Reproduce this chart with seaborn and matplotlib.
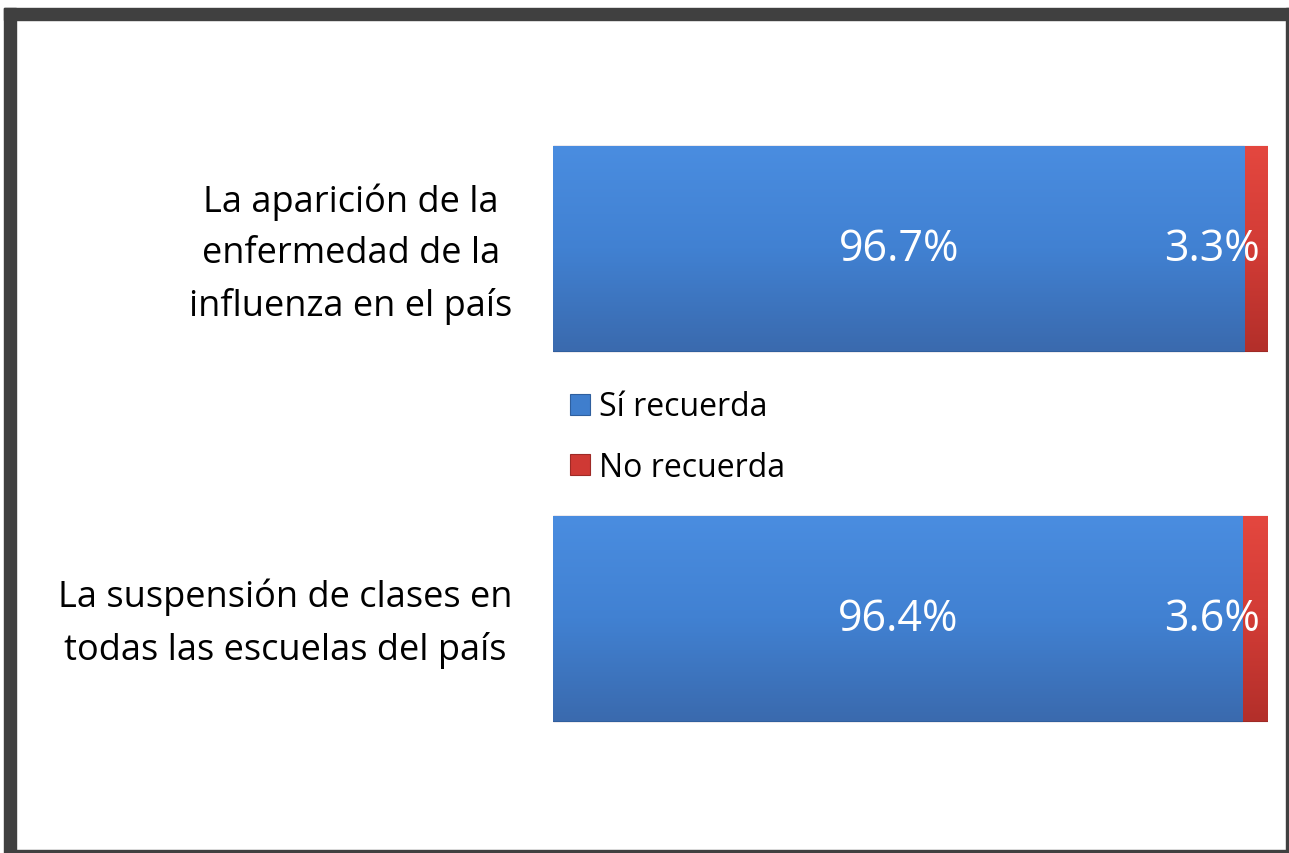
# stacked horizontal bar: recuerda / no recuerda

import matplotlib
matplotlib.use('Agg')
import matplotlib.pyplot as plt
import matplotlib.transforms as mtrans
import numpy as np
import pandas as pd
import seaborn as sb
from matplotlib.patches import Rectangle
from matplotlib.colors import LinearSegmentedColormap

# data
categories = ['La aparición de la\nenfermedad de la\ninfluenza en el país',
              'La suspensión de clases en\ntodas las escuelas del país']
si_recuerda = [96.7, 96.4]
no_recuerda = [3.3, 3.6]
series_names = ['Sí recuerda', 'No recuerda']

blue = '#3f7ecd'
red = '#cf3934'

sb.set_style('white')
plt.rcParams['font.family'] = ['Open Sans', 'DejaVu Sans']

df = pd.DataFrame({'cat': categories, 'si': si_recuerda, 'no': no_recuerda})
df['total'] = df['si'] + df['no']

fig = plt.figure(figsize=(12.89, 8.54), dpi=100)
ax = fig.add_axes([553/1289, 1 - 804.5/854, 715/1289, 740/854])

# red drawn as total, blue on top -> stacked look
sb.barplot(data=df, x='total', y='cat', color=red, width=0.554, saturation=1,
           edgecolor='#9e2a26', linewidth=0.8, ax=ax, label=series_names[1])
sb.barplot(data=df, x='si', y='cat', color=blue, width=0.554, saturation=1,
           edgecolor='#2f5f9e', linewidth=0.8, ax=ax, label=series_names[0])

ax.set_xlim(0, 100)
ax.set_ylim(1.5, -0.5)

# soft vertical gradient inside each bar (office-like look)
grad = np.linspace(0, 1, 256).reshape(-1, 1)
cmaps = [LinearSegmentedColormap.from_list('r', ['#e4473f', '#d23c36', '#b32f2a']),
         LinearSegmentedColormap.from_list('b', ['#4a8de0', '#4181d2', '#3a6aae'])]
for cont, cm in zip(ax.containers, cmaps):
    for p in cont:
        x0, y0 = p.get_x(), p.get_y()
        im = ax.imshow(grad, cmap=cm, aspect='auto', zorder=p.get_zorder() + 0.01,
                       extent=(x0, x0 + p.get_width(), y0 + p.get_height(), y0))
        im.set_clip_path(p)
ax.set_xlim(0, 100)
ax.set_ylim(1.5, -0.5)

ax.set_xlabel('')
ax.set_ylabel('')
ax.set_xticks([])
sb.despine(ax=ax, left=True, bottom=True)
ax.tick_params(axis='y', length=0, pad=29, colors='black')
ax.set_yticklabels(categories, fontsize=26, ha='right', multialignment='center',
                   linespacing=1.57, color='black')
# nudge category labels up a little
shift = mtrans.ScaledTranslation(0, 0.08, fig.dpi_scale_trans)
for lab in ax.get_yticklabels():
    lab.set_transform(lab.get_transform() + shift)

# value labels
blue_bars = ax.containers[1]
ax.bar_label(blue_bars, labels=[f'{v:.1f}%' for v in si_recuerda], label_type='center',
             color='white', fontsize=31, zorder=20)
for i, (s, n) in enumerate(zip(si_recuerda, no_recuerda)):
    ax.annotate(f'{n:.1f}%', xy=(s + n, i), xytext=(-8, 0), textcoords='offset pixels',
                ha='right', va='center', color='white', fontsize=31, zorder=20)

# legend
handles, labels = ax.get_legend_handles_labels()
order = [labels.index(n) for n in series_names]
leg = ax.legend([handles[k] for k in order], [labels[k] for k in order],
                loc='center left', bbox_to_anchor=(557/1289, 1 - 438/854),
                bbox_transform=fig.transFigure, frameon=False, fontsize=23,
                handlelength=0.62, handleheight=0.62, handletextpad=0.3, labelspacing=0.85,
                borderaxespad=0)
for t in leg.get_texts():
    t.set_color('black')

# frame around the picture
dark = '#404040'
for x0, y0, w, h in [(4, 9, 1285, 12), (4, 9, 12, 845), (16, 851, 1273, 3), (1286, 9, 3, 845)]:
    fig.patches.append(Rectangle((x0/1289, 1 - (y0 + h)/854), w/1289, h/854,
                                 transform=fig.transFigure, color=dark, zorder=10))

fig.savefig('out.png', dpi=100)
